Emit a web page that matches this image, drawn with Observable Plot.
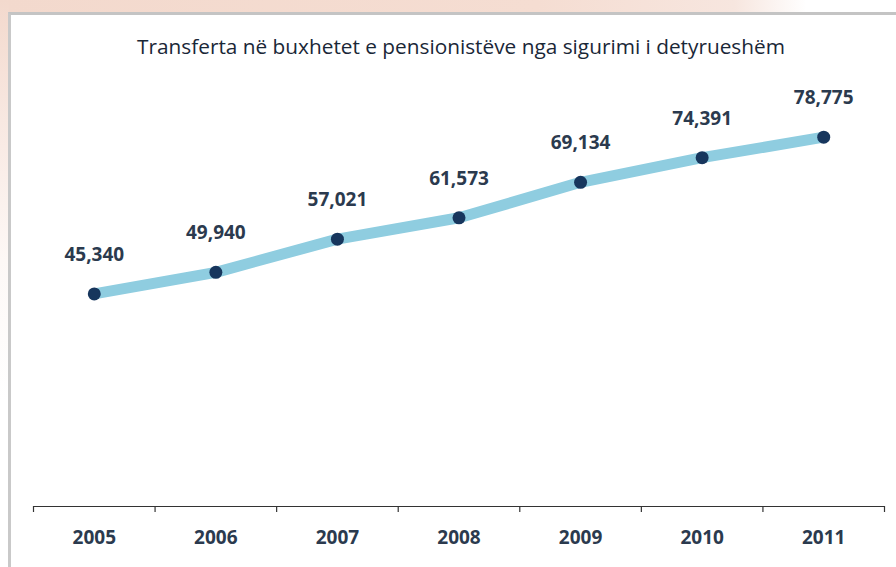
<!DOCTYPE html>
<html>
<head>
<meta charset="utf-8">
<script src="https://cdn.jsdelivr.net/npm/d3@7"></script>
<script src="https://cdn.jsdelivr.net/npm/@observablehq/plot@0.6"></script>
<style>
  html, body { margin: 0; padding: 0; }
  body { width: 896px; height: 567px; overflow: hidden; position: relative; background: #ffffff; }
  #bgtop { position: absolute; left: 0; top: 0; width: 896px; height: 14px;
           background: linear-gradient(90deg, #f3d9cd 0%, #f5ddd2 60%, #f7e6df 82%, #ffffff 90%); }
  #bgleft { position: absolute; left: 0; top: 0; width: 9px; height: 567px;
           background: linear-gradient(180deg, #f3d9cd 0px, #f8e8e1 120px, #fdf8f6 260px, #ffffff 400px); }
  #box { position: absolute; left: 8px; top: 12px; width: 900px; height: 600px;
         border-left: 3px solid #c9c9c9; border-top: 3px solid #c4c4c4; background: #fff; }
  #title { position: absolute; left: 0; width: 922px; top: 32px; text-align: center;
           font-family: "Open Sans", sans-serif; font-size: 20.8px; color: #1a2737; }
  #chart { position: absolute; left: 0; top: 0; }
</style>
</head>
<body>
<div id="bgtop"></div>
<div id="bgleft"></div>
<div id="box"></div>
<div id="title">Transferta në buxhetet e pensionistëve nga sigurimi i detyrueshëm</div>
<div id="chart"></div>
<script>
const years = [2005, 2006, 2007, 2008, 2009, 2010, 2011];
const values = [45340, 49940, 57021, 61573, 69134, 74391, 78775];
const labels = ["45,340", "49,940", "57,021", "61,573", "69,134", "74,391", "78,775"];

const data = years.map((y, i) => ({year: y, value: values[i], label: labels[i]}));
const boundaries = [...years.map(y => y - 0.5), years[years.length - 1] + 0.5];

const plot = Plot.plot({
  width: 896,
  height: 567,
  marginLeft: 33,
  marginRight: 12,
  marginTop: 84,
  marginBottom: 61,
  style: {background: "transparent", fontFamily: "Open Sans, sans-serif"},
  x: {domain: [boundaries[0], boundaries[boundaries.length - 1]], label: null},
  y: {domain: [0, 90000], axis: null},
  marks: [
    Plot.ruleY([0], {stroke: "#333", strokeWidth: 1.2}),
    Plot.axisX({ticks: boundaries, tickFormat: () => "", tickSize: 6, stroke: "#333", strokeWidth: 1.2, label: null}),
    Plot.axisX({ticks: years, tickSize: 0, tickPadding: 24, tickFormat: d => String(d), label: null,
                fontSize: 19, fontWeight: "bold", fill: "#2b3a4e"}),
    Plot.line(data, {x: "year", y: "value", stroke: "#8fcde0", strokeWidth: 11, strokeLinejoin: "round", strokeLinecap: "butt"}),
    Plot.dot(data, {x: "year", y: "value", r: 6.5, fill: "#17365d", stroke: "none"}),
    Plot.text(data, {x: "year", y: "value", text: "label", dy: -39, fontSize: 19, fontWeight: "bold", fill: "#2b3a4e"})
  ]
});
document.getElementById("chart").appendChild(plot);
</script>
</body>
</html>
